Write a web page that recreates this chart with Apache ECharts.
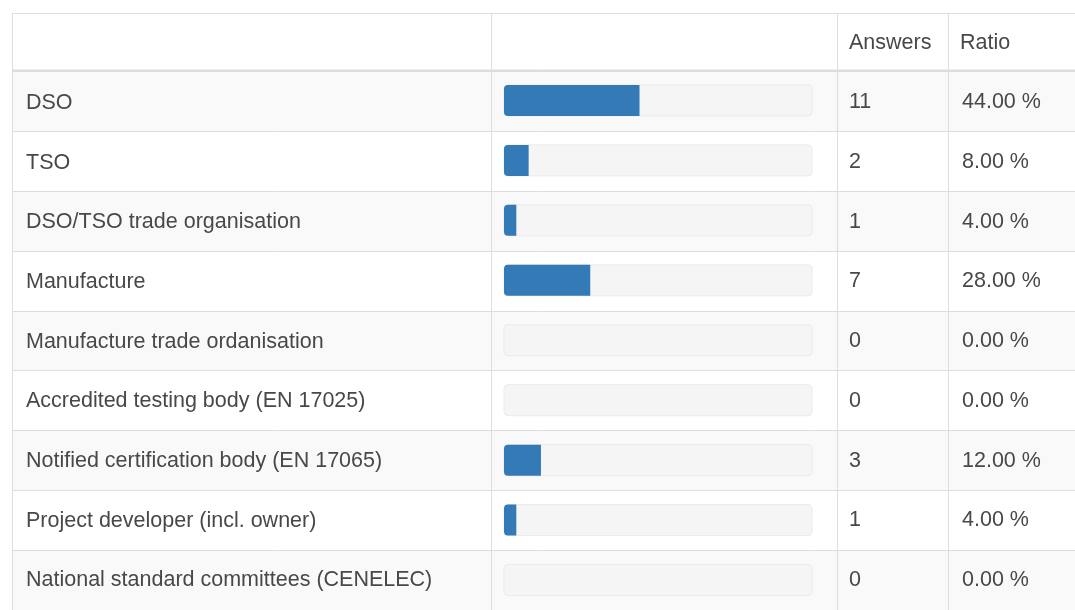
<!DOCTYPE html>
<html>
<head>
<meta charset="utf-8">
<script src="https://cdn.jsdelivr.net/npm/echarts@6/dist/echarts.min.js"></script>
<style>
  html, body { margin: 0; padding: 0; background: #fff; }
  #chart { width: 1075px; height: 610px; }
</style>
</head>
<body>
<div id="chart"></div>
<script>
// table data
const categories = [
    'DSO',
    'TSO',
    'DSO/TSO trade organisation',
    'Manufacture',
    'Manufacture trade ordanisation',
    'Accredited testing body (EN 17025)',
    'Notified certification body (EN 17065)',
    'Project developer (incl. owner)',
    'National standard committees (CENELEC)'
];
const answers = [11, 2, 1, 7, 0, 0, 3, 1, 0];
const ratios = [44, 8, 4, 28, 0, 0, 12, 4, 0];
const headers = ['', '', 'Answers', 'Ratio'];

// layout
const colX = [12, 491, 837, 948];
const tableTop = 13;
const bodyTop = 71.5;
const rowH = 60.4;
const bodyH = rowH * categories.length;
const font = '"Liberation Sans", Arial, sans-serif';
const textColor = '#484848';
const fontSize = 21.5;
const lineColor = '#dddddd';

const chart = echarts.init(document.getElementById('chart'));

// category axis that only shows its labels inside the grid
const textAxis = (gridIndex, data, margin) => ({
    type: 'category',
    gridIndex: gridIndex,
    inverse: true,
    data: data,
    axisLine: {show: false},
    axisTick: {show: false},
    axisLabel: {
        inside: true,
        margin: margin,
        color: textColor,
        fontSize: fontSize,
        fontFamily: font
    },
    splitLine: {show: false}
});

const hiddenX = (gridIndex, max) => ({
    type: 'value',
    gridIndex: gridIndex,
    min: 0,
    max: max,
    show: false
});

const graphics = [];
// outer top line and header bottom
graphics.push({
    type: 'line',
    shape: {x1: colX[0], y1: tableTop + 0.5, x2: 1075, y2: tableTop + 0.5},
    style: {stroke: lineColor, lineWidth: 1}
});
graphics.push({
    type: 'line',
    shape: {x1: colX[0], y1: bodyTop - 1, x2: 1075, y2: bodyTop - 1},
    style: {stroke: lineColor, lineWidth: 2}
});
colX.forEach(x => {
    graphics.push({
        type: 'line',
        z: 10,
        shape: {x1: x + 0.5, y1: tableTop, x2: x + 0.5, y2: 610},
        style: {stroke: lineColor, lineWidth: 1}
    });
});
headers.forEach((h, i) => {
    if (!h) return;
    graphics.push({
        type: 'text',
        x: colX[i] + 12,
        y: (tableTop + bodyTop) / 2 + 1,
        style: {
            text: h,
            fill: textColor,
            font: fontSize + 'px ' + font,
            verticalAlign: 'middle'
        }
    });
});

chart.setOption({
    animation: false,
    grid: [
        {left: colX[0], top: bodyTop, width: 1200, height: bodyH},
        {left: 504, top: bodyTop - 1, width: 308, height: bodyH},
        {left: colX[2], top: bodyTop + 1, width: colX[3] - colX[2], height: bodyH},
        {left: colX[3], top: bodyTop + 1, width: 200, height: bodyH},
        {left: colX[0], top: bodyTop + 2, width: colX[1] - colX[0], height: bodyH}
    ],
    xAxis: [hiddenX(0, 1), hiddenX(1, 100), hiddenX(2, 1), hiddenX(3, 1), hiddenX(4, 1)],
    yAxis: [
        {
            // row stripes and row borders
            type: 'category',
            gridIndex: 0,
            inverse: true,
            data: categories,
            axisLine: {show: false},
            axisTick: {show: false},
            axisLabel: {show: false},
            splitLine: {show: true, lineStyle: {color: lineColor, width: 1}},
            splitArea: {show: true, areaStyle: {color: ['#f9f9f9', '#ffffff']}}
        },
        {
            type: 'category',
            gridIndex: 1,
            inverse: true,
            data: categories,
            show: false
        },
        textAxis(2, answers.map(String), 12),
        textAxis(3, ratios.map(v => v.toFixed(2) + ' %'), 14),
        textAxis(4, categories, 14)
    ],
    series: [
        {
            type: 'bar',
            xAxisIndex: 1,
            yAxisIndex: 1,
            data: ratios,
            barWidth: 31,
            itemStyle: {color: '#337ab7', borderRadius: [4, 0, 0, 4]},
            showBackground: true,
            backgroundStyle: {
                color: '#f5f5f5',
                borderColor: '#ebebeb',
                borderWidth: 1,
                borderRadius: 4
            }
        }
    ],
    graphic: graphics
});
</script>
</body>
</html>
